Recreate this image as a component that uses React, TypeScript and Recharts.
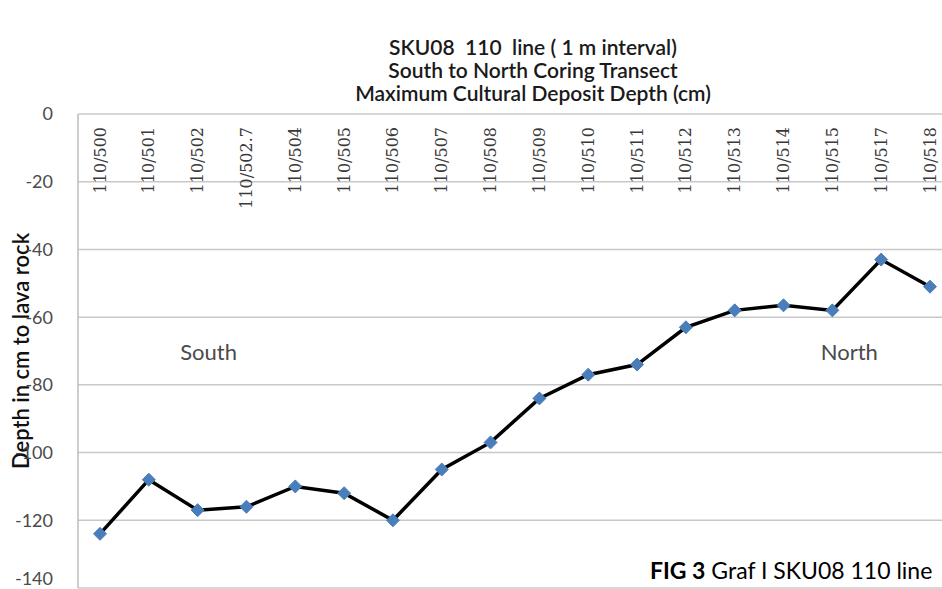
import React from 'react';
import { LineChart, Line, XAxis, YAxis, CartesianGrid, ReferenceDot } from 'recharts';

const categories = ['110/500', '110/501', '110/502', '110/502.7', '110/504', '110/505', '110/506', '110/507', '110/508', '110/509', '110/510', '110/511', '110/512', '110/513', '110/514', '110/515', '110/517', '110/518'];
const depths = [-124, -108, -117, -116, -110, -112, -120, -105, -97, -84, -77, -74, -63, -58, -56.5, -58, -43, -51];
const yTicks = [0, -20, -40, -60, -80, -100, -120, -140];
const titleLines = ['SKU08  110  line ( 1 m interval)', 'South to North Coring Transect', 'Maximum Cultural Deposit Depth (cm)'];
const yAxisTitle = 'Depth in cm to lava rock';
const captionBold = 'FIG 3';
const captionText = ' Graf I SKU08 110 line';
const annotations = [
  { x: '110/502', y: -70, text: 'South', dx: 11 },
  { x: '110/515', y: -70, text: 'North', dx: 17 },
];

const data = categories.map((name, i) => ({ name, depth: depths[i] }));

const SANS = 'Lato, "Open Sans", sans-serif';

const renderXTick = (props: any) => {
  const { x, y, payload } = props;
  return (
    <text
      key={payload.value}
      x={x}
      y={y + 13}
      transform={`rotate(-90, ${x}, ${y + 13})`}
      textAnchor="end"
      dominantBaseline="central"
      fontFamily='"DejaVu Serif", serif'
      fontSize={16}
      fill="#3a3a3a"
    >
      {payload.value}
    </text>
  );
};

const Diamond = (props: any) => {
  const { cx, cy } = props;
  if (cx == null || cy == null) return null;
  const r = 6.5;
  return (
    <polygon
      points={`${cx},${cy - r} ${cx + r},${cy} ${cx},${cy + r} ${cx - r},${cy}`}
      fill="#4a7ebb"
      stroke="#4a7ebb"
      strokeWidth={1}
    />
  );
};

const YTitle = (props: any) => {
  const { viewBox } = props;
  const cx = viewBox.x + 20;
  const cy = viewBox.y + viewBox.height / 2;
  return (
    <text
      x={cx}
      y={cy}
      transform={`rotate(-90, ${cx}, ${cy})`}
      textAnchor="middle"
      dominantBaseline="central"
      fontFamily={SANS}
      fontSize={22}
      fontWeight={600}
      fill="#111"
    >
      {yAxisTitle}
    </text>
  );
};

const AnnLabel = (text: string, dx: number) => (props: any) => {
  const { viewBox } = props;
  const cx = viewBox.x + viewBox.width / 2 + dx;
  const cy = viewBox.y + viewBox.height / 2;
  return (
    <text x={cx} y={cy} textAnchor="middle" dominantBaseline="central" fontFamily={SANS} fontSize={22} fill="#4a4a4a">
      {text}
    </text>
  );
};

export default function App() {
  return (
    <div style={{ position: 'fixed', left: 0, top: 0, width: 942, height: 589, overflow: 'hidden', background: '#fff' }}>
      <div style={{ position: 'absolute', left: 0, top: 35, width: 1066, textAlign: 'center', fontFamily: SANS, fontSize: 21, fontWeight: 600, lineHeight: '23px', color: '#1a1a1a' }}>
        {titleLines.map((t, i) => (
          <div key={i} style={{ whiteSpace: 'pre' }}>{t}</div>
        ))}
      </div>
      <LineChart width={942} height={589} data={data} margin={{ top: 113, right: 0, bottom: 1, left: 0 }}>
        <CartesianGrid vertical={false} stroke="#c8c8c8" strokeWidth={1.5} />
        <XAxis
          dataKey="name"
          orientation="top"
          height={1}
          padding={{ left: 22, right: 12 }}
          axisLine={false}
          tickLine={false}
          tickSize={0}
          tickMargin={0}
          interval={0}
          tick={renderXTick}
        />
        <YAxis
          type="number"
          domain={[-140, 0]}
          ticks={yTicks}
          width={78}
          tickLine={false}
          tickSize={0}
          tickMargin={25}
          axisLine={{ stroke: '#bdbdbd', strokeWidth: 1.5 }}
          tick={{ fontFamily: SANS, fontSize: 18, fill: '#4a4a4a' }}
          label={<YTitle />}
        />
        {annotations.map((a, i) => (
          <ReferenceDot key={i} x={a.x} y={a.y} r={0} fill="none" stroke="none" label={AnnLabel(a.text, a.dx)} />
        ))}
        <Line
          type="linear"
          dataKey="depth"
          stroke="#000"
          strokeWidth={3.5}
          dot={<Diamond />}
          activeDot={false}
          isAnimationActive={false}
        />
      </LineChart>
      <div style={{ position: 'absolute', left: 650, top: 556, fontFamily: SANS, fontSize: 23, color: '#000', whiteSpace: 'pre' }}>
        <b>{captionBold}</b>{captionText}
      </div>
    </div>
  );
}
